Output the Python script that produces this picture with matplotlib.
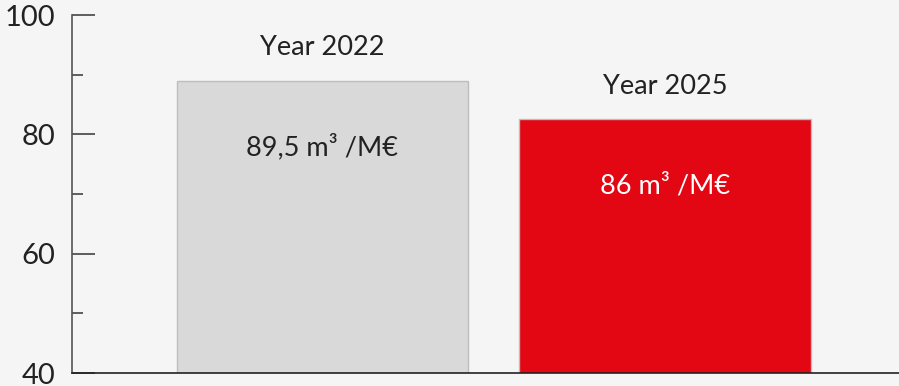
import matplotlib.pyplot as plt
from matplotlib.ticker import MultipleLocator

plt.rcParams['font.family'] = ['Lato', 'DejaVu Sans']

# data
years = ['Year 2022', 'Year 2025']
values = [89.0, 82.5]
value_labels = ['89,5 m³ /M€', '86 m³ /M€']
bar_colors = ['#d9d9d9', '#e30613']
label_colors = ['#222222', '#ffffff']
y_ticks = [40, 60, 80, 100]

fig = plt.figure(figsize=(8.99, 3.86), dpi=100)
fig.patch.set_facecolor('#f5f5f5')
ax = fig.add_axes([72 / 899, 13 / 386, 827 / 899, 358 / 386])
ax.set_facecolor('#f5f5f5')

x = range(len(values))
bars = ax.bar(x, values, width=0.85, color=bar_colors, edgecolor='#bdbdbd',
              linewidth=1.0, bottom=0)

for i, b in enumerate(bars):
    top = b.get_height()
    cx = b.get_x() + b.get_width() / 2
    ax.annotate(years[i], (cx, top), xytext=(0, 24), textcoords='offset points',
                ha='center', va='center', fontsize=19.5, color='#222222')
    ax.annotate(value_labels[i], (cx, top), xytext=(0, -48), textcoords='offset points',
                ha='center', va='center', fontsize=19.5, color=label_colors[i])

ax.set_ylim(40, 100)
ax.set_xlim(-0.731, 1.683)
ax.set_yticks(y_ticks)
ax.set_yticklabels([str(t) for t in y_ticks])
ax.yaxis.set_minor_locator(MultipleLocator(10))
ax.tick_params(axis='y', which='major', direction='in', length=16.5, width=1.2,
               color='#444444', labelsize=21, pad=12, labelcolor='#222222')
ax.tick_params(axis='y', which='minor', direction='in', length=8, width=1.2,
               color='#444444')
ax.tick_params(axis='x', bottom=False, labelbottom=False)

for s in ['top', 'right']:
    ax.spines[s].set_visible(False)
ax.spines['left'].set_color('#555555')
ax.spines['left'].set_linewidth(1.2)
ax.spines['bottom'].set_color('#222222')
ax.spines['bottom'].set_linewidth(1.2)

plt.savefig('out.png', dpi=100, facecolor=fig.get_facecolor())
